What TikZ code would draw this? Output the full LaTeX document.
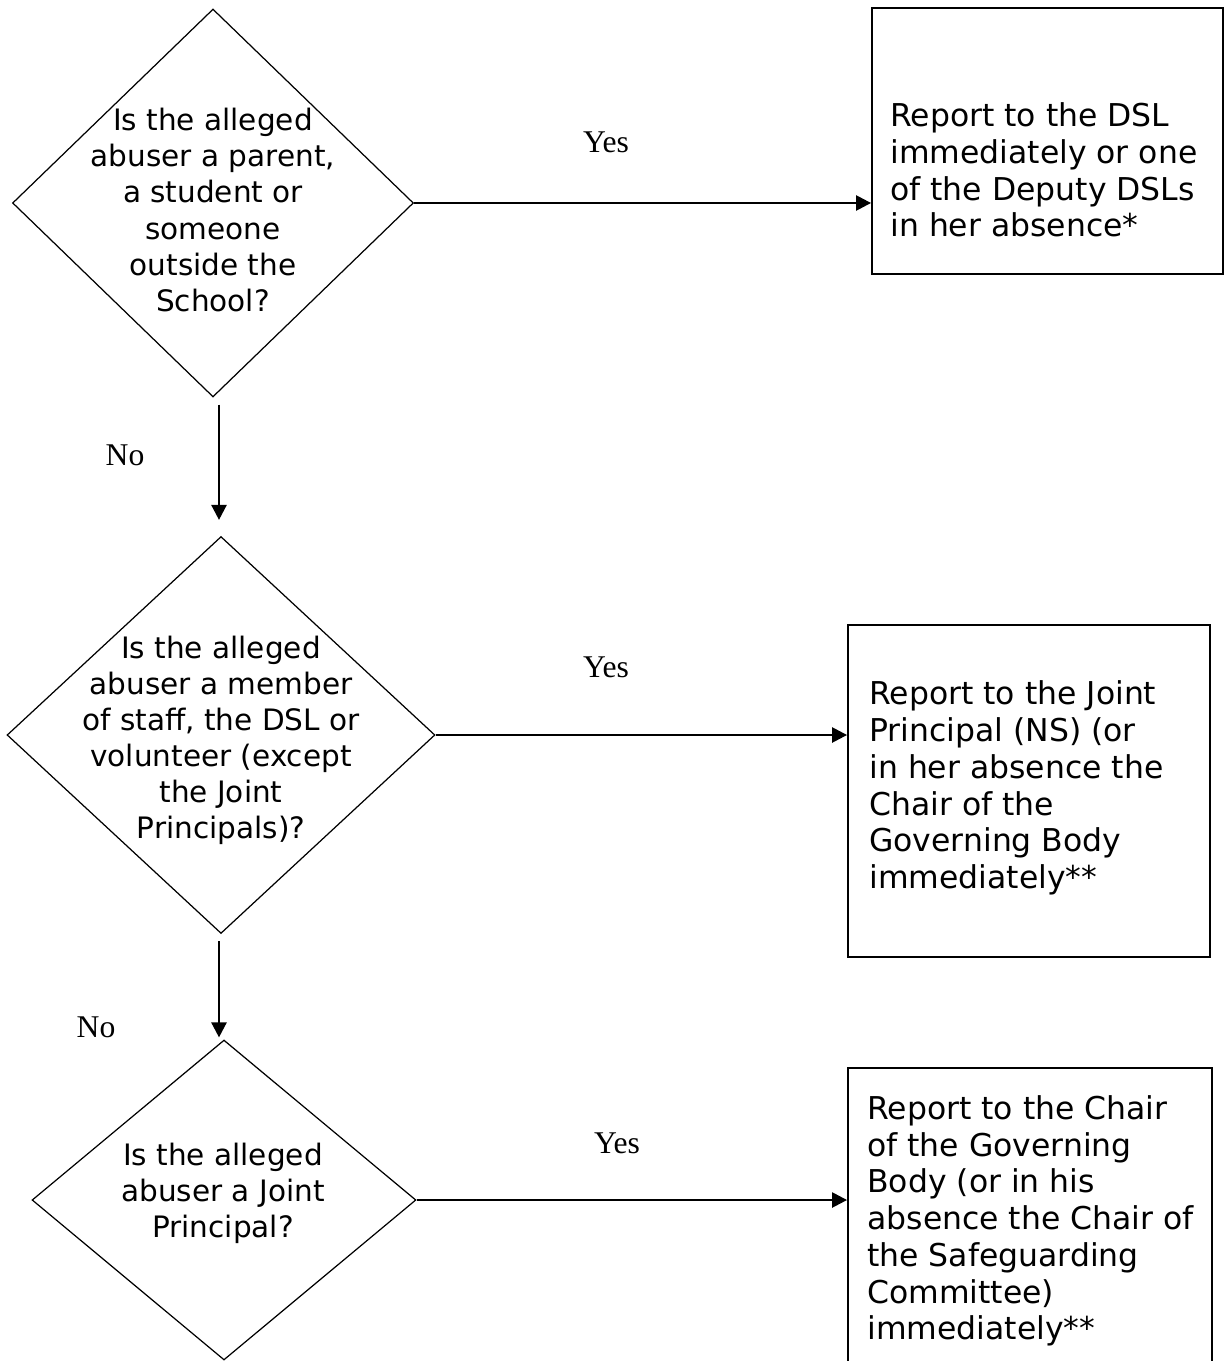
\documentclass[tikz,border=0pt]{standalone}
\usepackage{fontspec}
\setmainfont{DejaVu Sans}
\newfontfamily\labelfont{Liberation Serif}
\usetikzlibrary{shapes.geometric,arrows.meta}

\begin{document}
\begin{tikzpicture}[x=0.02cm,y=-0.02cm,
  question/.style={diamond,draw,line width=0.7pt,inner sep=0pt},
  questiontext/.style={inner sep=0pt,align=center,
    font=\fontsize{16.8}{20.5}\selectfont},
  answer/.style={draw,line width=1.1pt,inner sep=0pt},
  answertext/.style={anchor=west,inner sep=0pt,align=left,
    font=\fontsize{17.9}{20.9}\selectfont},
  flow/.style={line width=1.4pt,-{Triangle[length=8.5pt,width=8.5pt]}},
  branch/.style={font=\labelfont\fontsize{18}{20}\selectfont}]
  \clip (0,0) rectangle (1224,1361);
  \node[question,minimum width=8.02cm,minimum height=7.76cm] (q1) at (213,203) {};
  \node[question,minimum width=8.56cm,minimum height=7.94cm] (q2) at (221,735) {};
  \node[question,minimum width=7.68cm,minimum height=6.4cm] (q3) at (224,1200) {};
  \node[questiontext] (t1) at (213,210)
    {Is the alleged\\abuser a parent,\\a student or\\someone\\outside the\\School?};
  \node[questiontext] (t2) at (221,740)
    {Is the alleged\\abuser a member\\of staff, the DSL or\\volunteer (except\\the Joint\\Principals)?};
  \node[questiontext] (t3) at (223,1193)
    {Is the alleged\\abuser a Joint\\Principal?};
  \node[answer,minimum width=7.02cm,minimum height=5.32cm] (r1) at (1047.5,141) {};
  \node[answer,minimum width=7.24cm,minimum height=6.64cm] (r2) at (1029,791) {};
  \node[answer,minimum width=7.28cm,minimum height=8.64cm] (r3) at (1030,1284) {};
  \node[answertext] (a1) at (890,170)
    {Report to the DSL\\immediately or one\\of the Deputy DSLs\\in her absence*};
  \node[answertext] (a2) at (869,788)
    {Report to the Joint\\Principal (NS) (or\\in her absence the\\Chair of the\\Governing Body\\immediately**};
  \node[answertext] (a3) at (867,1221)
    {Report to the Chair\\of the Governing\\Body (or in his\\absence the Chair of\\the Safeguarding\\Committee)\\immediately**};
  \foreach \q/\r in {q1/r1,q2/r2,q3/r3}
    \draw[flow] (\q.east) -- (\q.east -| \r.west);
  \draw[flow] ([shift={(6,7)}]q1.south) -- ([shift={(-2,-16)}]q2.north);
  \draw[flow] ([shift={(-2,7)}]q2.south) -- ([shift={(-5,-2)}]q3.north);
  \foreach \x/\y [count=\i] in {606/142,606/667,617/1143}
    \node[branch] (yes\i) at (\x,\y) {Yes};
  \foreach \x/\y [count=\i] in {125/455,96/1027}
    \node[branch] (no\i) at (\x,\y) {No};
\end{tikzpicture}
\end{document}
